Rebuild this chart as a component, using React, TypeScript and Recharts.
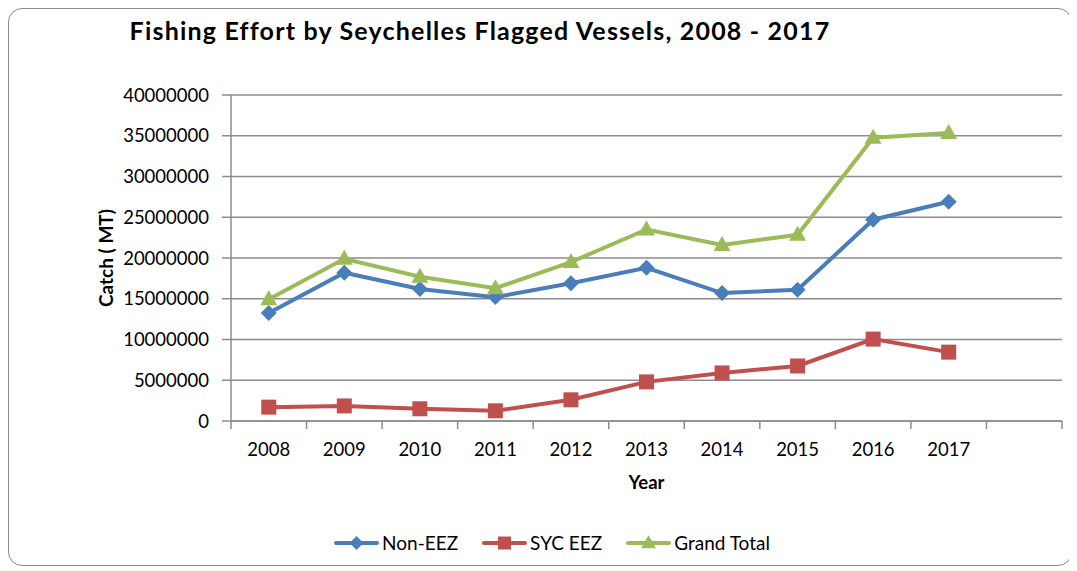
import React from 'react'
import { CartesianGrid, Line, LineChart, XAxis, YAxis } from 'recharts'

const years = ['2008', '2009', '2010', '2011', '2012', '2013', '2014', '2015', '2016', '2017', '']
const nonEez = [13250000, 18200000, 16200000, 15200000, 16900000, 18800000, 15700000, 16100000, 24700000, 26900000, null]
const sycEez = [1700000, 1850000, 1500000, 1250000, 2600000, 4800000, 5900000, 6750000, 10050000, 8450000, null]
const grandTotal = [14950000, 19900000, 17700000, 16300000, 19500000, 23500000, 21600000, 22850000, 34750000, 35350000, null]
const yTicks = [0, 5000000, 10000000, 15000000, 20000000, 25000000, 30000000, 35000000, 40000000]

const BLUE = '#4a7ebb'
const RED = '#c0504d'
const GREEN = '#9bbb59'
const GRID = '#8c8c8c'
const FONT = 'Lato, "Open Sans", sans-serif'

const data = years.map((year, i) => ({
  year,
  nonEez: nonEez[i],
  sycEez: sycEez[i],
  grandTotal: grandTotal[i],
}))

const W = 1062
const H = 556
const LEFT = 222
const RIGHT = 9
const bandWidth = (W - LEFT - RIGHT) / years.length

const Diamond = ({ cx, cy, color, r = 8 }: any) => {
  if (cx == null || cy == null) return null
  return <polygon points={`${cx},${cy - r} ${cx + r},${cy} ${cx},${cy + r} ${cx - r},${cy}`} fill={color} />
}
const Square = ({ cx, cy, color, s = 15 }: any) => {
  if (cx == null || cy == null) return null
  return <rect x={cx - s / 2} y={cy - s / 2} width={s} height={s} fill={color} />
}
const Triangle = ({ cx, cy, color, w = 17, h = 15 }: any) => {
  if (cx == null || cy == null) return null
  return <polygon points={`${cx},${cy - h * 0.6} ${cx + w / 2},${cy + h * 0.4} ${cx - w / 2},${cy + h * 0.4}`} fill={color} />
}

// tick marks sit between categories, like the Excel original
const XTick = ({ x, y, payload, index }: any) => {
  const left = x - bandWidth / 2
  return (
    <g>
      <line x1={left} y1={y} x2={left} y2={y + 8} stroke={GRID} strokeWidth={1.5} />
      {index === years.length - 1 && (
        <line x1={x + bandWidth / 2} y1={y} x2={x + bandWidth / 2} y2={y + 8} stroke={GRID} strokeWidth={1.5} />
      )}
      <text x={x} y={y + 35} textAnchor="middle" fill="#000" fontSize={18.5} fontFamily={FONT}>
        {payload.value}
      </text>
    </g>
  )
}

const legendItems = [
  { name: 'Non-EEZ', color: BLUE, marker: 'diamond' },
  { name: 'SYC EEZ', color: RED, marker: 'square' },
  { name: 'Grand Total', color: GREEN, marker: 'triangle' },
]

const LegendIcon = ({ color, marker }: any) => (
  <svg width={45} height={18} style={{ marginRight: 3 }}>
    <line x1={2} y1={9} x2={43} y2={9} stroke={color} strokeWidth={4} strokeLinecap="round" />
    {marker === 'diamond' && <Diamond cx={22.5} cy={9} color={color} r={7} />}
    {marker === 'square' && <Square cx={22.5} cy={9} color={color} s={13} />}
    {marker === 'triangle' && <Triangle cx={22.5} cy={9} color={color} w={15} h={13} />}
  </svg>
)

export default function App() {
  return (
    <div
      style={{
        position: 'relative',
        width: W,
        height: H,
        border: '1.5px solid #8a8a8a',
        borderRadius: 14,
        background: '#fff',
        fontFamily: FONT,
      }}
    >
      <div
        style={{
          position: 'absolute',
          left: 0,
          top: 6,
          width: 942,
          textAlign: 'center',
          fontWeight: 700,
          fontSize: 25,
          letterSpacing: 1.2,
          color: '#000',
        }}
      >
        Fishing Effort by Seychelles Flagged Vessels, 2008 - 2017
      </div>
      <LineChart width={W} height={H} data={data} margin={{ top: 86, right: RIGHT, left: 0, bottom: 0 }}>
        <CartesianGrid vertical={false} stroke={GRID} strokeWidth={1.5} />
        <XAxis
          dataKey="year"
          scale="band"
          height={144}
          tickSize={0}
          tickMargin={0}
          interval={0}
          stroke={GRID}
          strokeWidth={1.5}
          tick={<XTick />}
          label={{
            content: ({ viewBox }: any) => (
              <text
                x={viewBox.x + viewBox.width / 2}
                y={viewBox.y + 68}
                textAnchor="middle"
                fontWeight={700}
                fontSize={18.5}
                fontFamily={FONT}
                fill="#000"
              >
                Year
              </text>
            ),
          }}
        />
        <YAxis
          width={LEFT}
          domain={[0, 40000000]}
          ticks={yTicks}
          interval={0}
          tickSize={9}
          tickMargin={13}
          stroke={GRID}
          strokeWidth={1.5}
          tick={{ fill: '#000', fontSize: 18.5, fontFamily: FONT }}
          label={{
            content: ({ viewBox }: any) => {
              const cx = 96
              const cy = viewBox.y + viewBox.height / 2
              return (
                <text
                  x={cx}
                  y={cy}
                  transform={`rotate(-90, ${cx}, ${cy})`}
                  textAnchor="middle"
                  dominantBaseline="central"
                  fontWeight={700}
                  fontSize={19}
                  fontFamily={FONT}
                  fill="#000"
                >
                  Catch ( MT)
                </text>
              )
            },
          }}
        />
        <Line
          dataKey="nonEez"
          name="Non-EEZ"
          stroke={BLUE}
          strokeWidth={4}
          dot={(p: any) => <Diamond key={p.index} cx={p.cx} cy={p.cy} color={BLUE} />}
          activeDot={false}
          isAnimationActive={false}
        />
        <Line
          dataKey="sycEez"
          name="SYC EEZ"
          stroke={RED}
          strokeWidth={4}
          dot={(p: any) => <Square key={p.index} cx={p.cx} cy={p.cy} color={RED} />}
          activeDot={false}
          isAnimationActive={false}
        />
        <Line
          dataKey="grandTotal"
          name="Grand Total"
          stroke={GREEN}
          strokeWidth={4}
          dot={(p: any) => <Triangle key={p.index} cx={p.cx} cy={p.cy} color={GREEN} />}
          activeDot={false}
          isAnimationActive={false}
        />
      </LineChart>
      <div
        style={{
          position: 'absolute',
          left: 0,
          top: 522,
          width: 1086,
          display: 'flex',
          justifyContent: 'center',
          alignItems: 'center',
          fontSize: 19,
          color: '#000',
        }}
      >
        {legendItems.map((item) => (
          <div key={item.name} style={{ display: 'flex', alignItems: 'center', margin: '0 12px' }}>
            <LegendIcon color={item.color} marker={item.marker} />
            <span>{item.name}</span>
          </div>
        ))}
      </div>
    </div>
  )
}
